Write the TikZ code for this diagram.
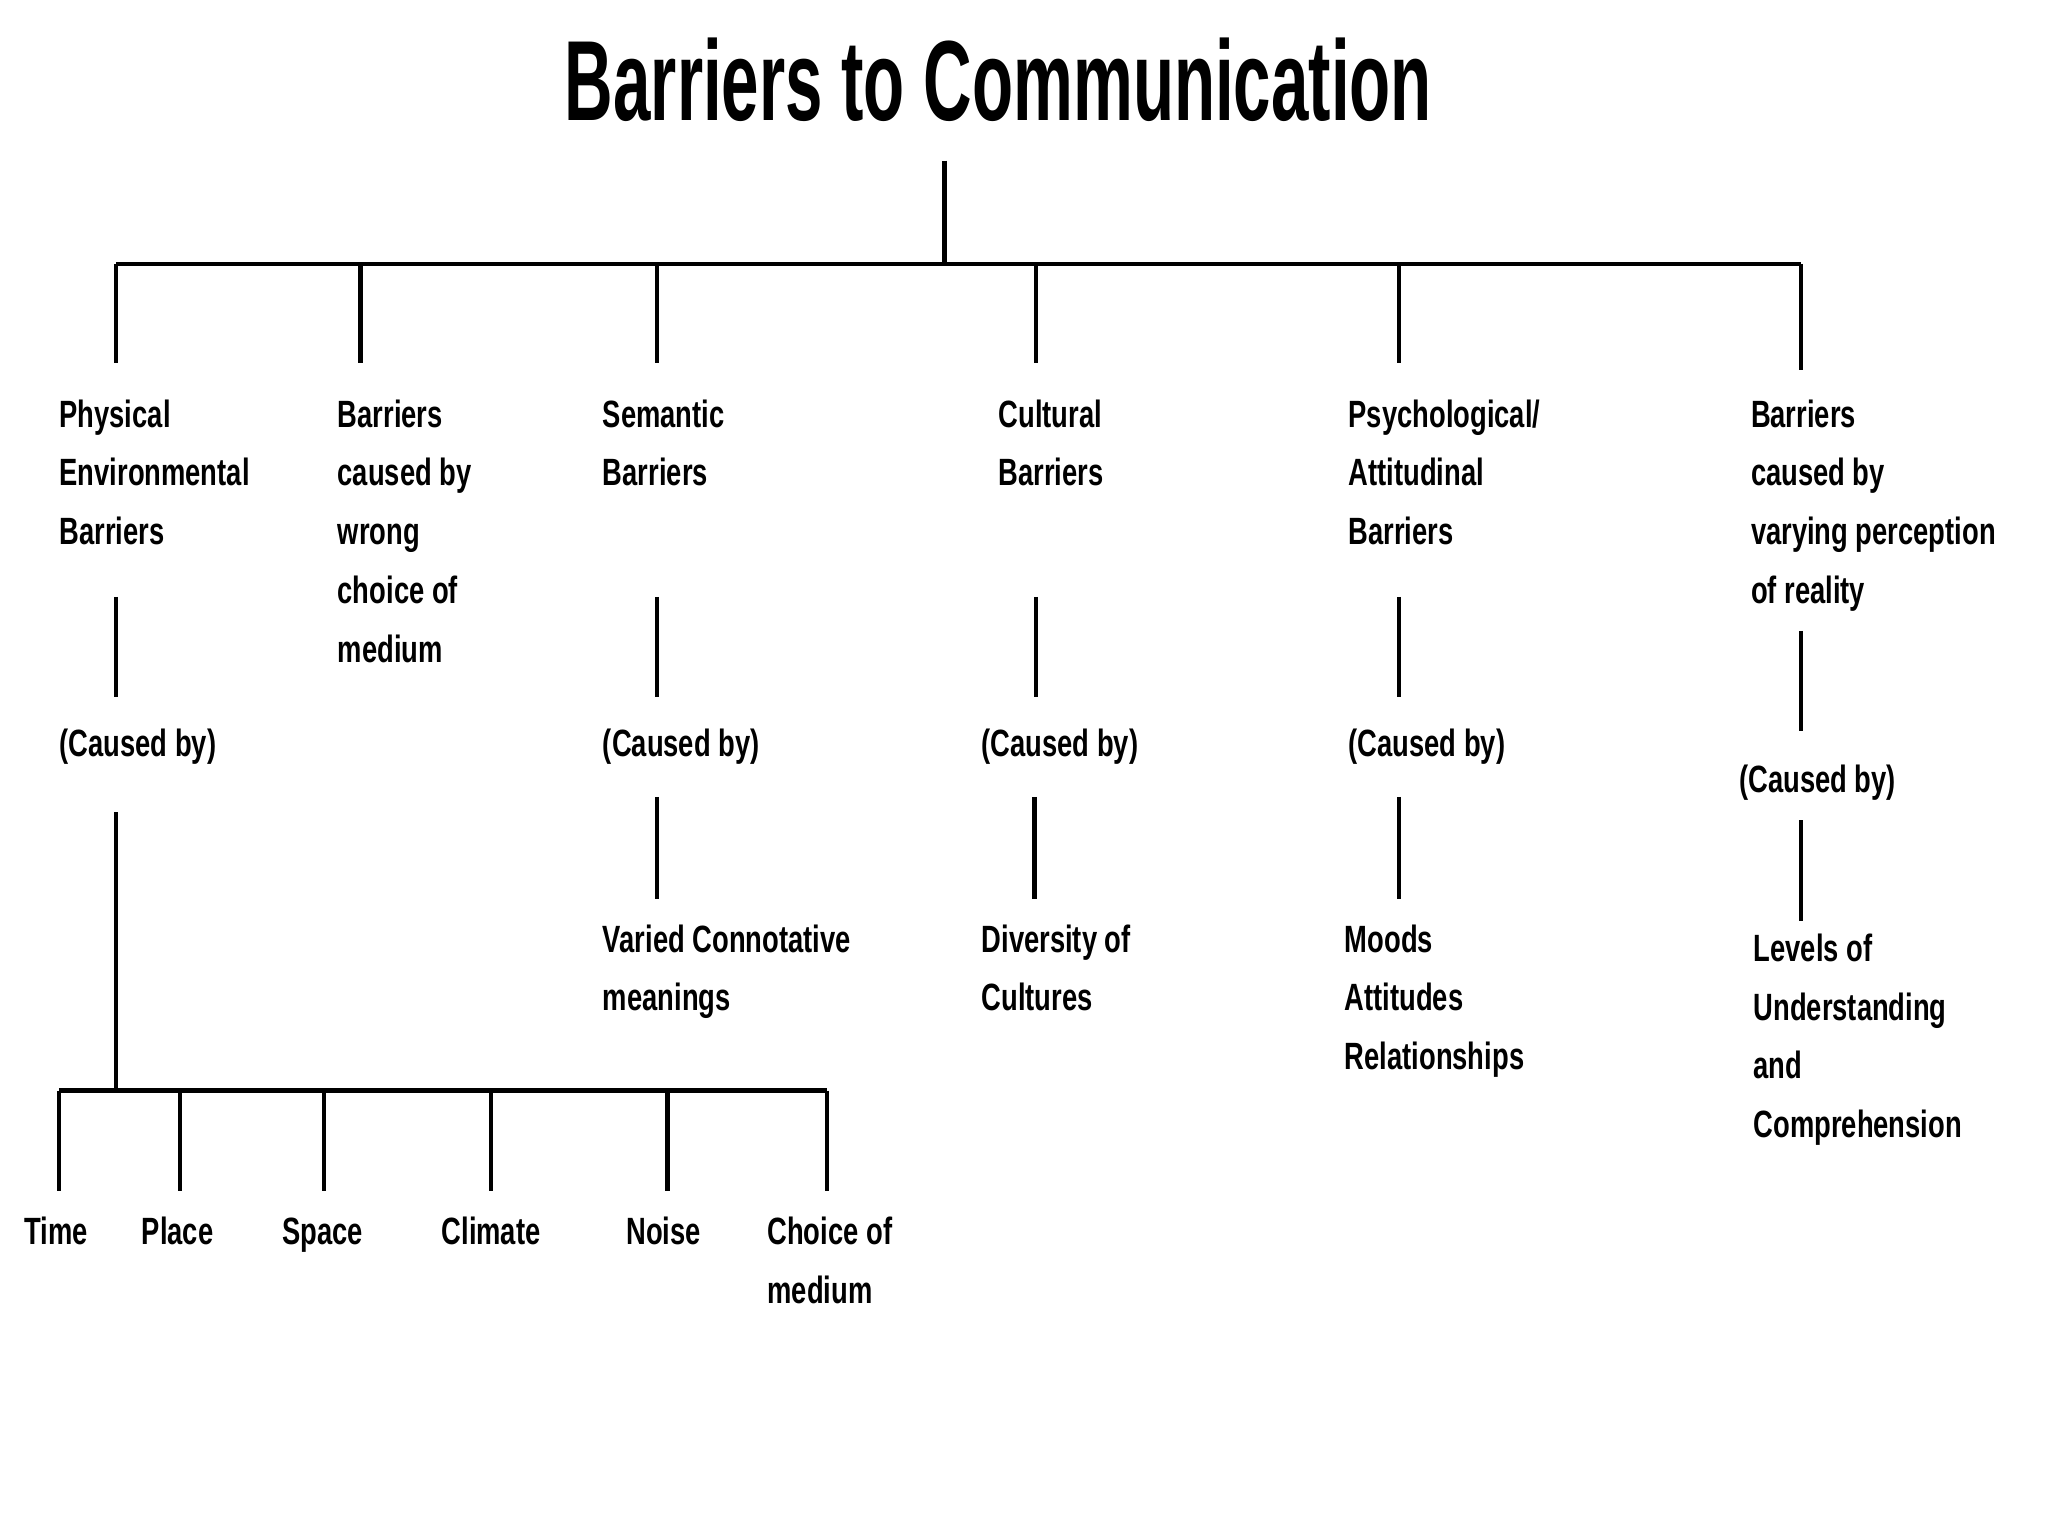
\documentclass[tikz,border=0pt]{standalone}
\usepackage{fontspec}
\setmainfont{Liberation Sans}
\newfontfamily\bodyfam{Liberation Sans}[FakeStretch=0.72]
\newfontfamily\titlefam{Liberation Sans}[FakeStretch=0.59]
\begin{document}
\begin{tikzpicture}[x=0.3265pt,y=-0.3265pt,
  lbl/.style={font=\bodyfam\bfseries\fontsize{9.5}{14.7}\selectfont,align=left,inner sep=0pt,anchor=base west},
  clbl/.style={lbl,anchor=base},
  conn/.style={line width=1.1pt,line cap=butt},
  ttl/.style={font=\titlefam\bfseries\fontsize{28.5}{30}\selectfont,inner sep=0pt,anchor=base}]
\useasboundingbox[fill=white] (0,0) rectangle (1568,1176);
% title
\node[ttl] (title) at (764.5,92) {Barriers to Communication};
% level 1 labels (anchored at baseline of last line)
\node[lbl] (phys) at (45,417) {Physical\\Environmental\\Barriers};
\node[lbl] (medium) at (258,507) {Barriers\\caused by\\wrong\\choice of\\medium};
\node[lbl] (sem) at (461,372) {Semantic\\Barriers};
\node[lbl] (cult) at (764,372) {Cultural\\Barriers};
\node[lbl] (psy) at (1032,417) {Psychological/\\Attitudinal\\Barriers};
\node[lbl] (perc) at (1340,462) {Barriers\\caused by\\varying perception\\of reality};
% caused by
\node[lbl] (cb1) at (45,579) {(Caused by)};
\node[lbl] (cb2) at (461,579) {(Caused by)};
\node[lbl] (cb3) at (751,579) {(Caused by)};
\node[lbl] (cb4) at (1032,579) {(Caused by)};
\node[lbl] (cb5) at (1331,607) {(Caused by)};
% level 3
\node[lbl] (varied) at (461,774) {Varied Connotative\\meanings};
\node[lbl] (div) at (751,774) {Diversity of\\Cultures};
\node[lbl] (moods) at (1029,819) {Moods\\Attitudes\\Relationships};
\node[lbl] (levels) at (1342,871) {Levels of\\Understanding\\and\\Comprehension};
% bottom
\node[clbl] (time) at (43,953) {Time};
\node[clbl] (place) at (136,953) {Place};
\node[clbl] (space) at (247,953) {Space};
\node[clbl] (climate) at (376,953) {Climate};
\node[clbl] (noise) at (508,953) {Noise};
\node[lbl] (choice) at (587,998) {Choice of\\medium};
% coordinates
\coordinate (t0) at (723,123);
\coordinate (t1) at (723,202);
\coordinate (busL) at (89,202);
\coordinate (busR) at (1379,202);
\foreach \n/\x/\e in {a/89/278,b/276/278,c/503/278,d/793/278,e/1071/278,f/1379/283}{
  \coordinate (top\n) at (\x,202);
  \coordinate (bot\n) at (\x,\e);
}
\foreach \n/\x/\s/\e in {a/89/457/534,c/503/457/534,d/793/457/534,e/1071/457/534,f/1379/483/560}{
  \coordinate (ms\n) at (\x,\s);
  \coordinate (me\n) at (\x,\e);
}
\foreach \n/\x/\s/\e in {a/89/622/835,c/503/610/688,d/792/610/688,e/1071/610/688,f/1379/628/705}{
  \coordinate (ls\n) at (\x,\s);
  \coordinate (le\n) at (\x,\e);
}
\coordinate (bbL) at (45,835);
\coordinate (bbR) at (633,835);
\foreach \n/\x in {1/45,2/138,3/248,4/376,5/511,6/633}{
  \coordinate (bt\n) at (\x,835);
  \coordinate (bb\n) at (\x,912);
}
% connectors
\draw[conn] (t0) -- (t1);
\draw[conn] (busL) -- (busR);
\foreach \n in {a,b,c,d,e,f}{\draw[conn] (top\n) -- (bot\n);}
\foreach \n in {a,c,d,e,f}{\draw[conn] (ms\n) -- (me\n);}
\foreach \n in {a,c,d,e,f}{\draw[conn] (ls\n) -- (le\n);}
\draw[conn] (bbL) -- (bbR);
\foreach \n in {1,2,3,4,5,6}{\draw[conn] (bt\n) -- (bb\n);}
\end{tikzpicture}
\end{document}
